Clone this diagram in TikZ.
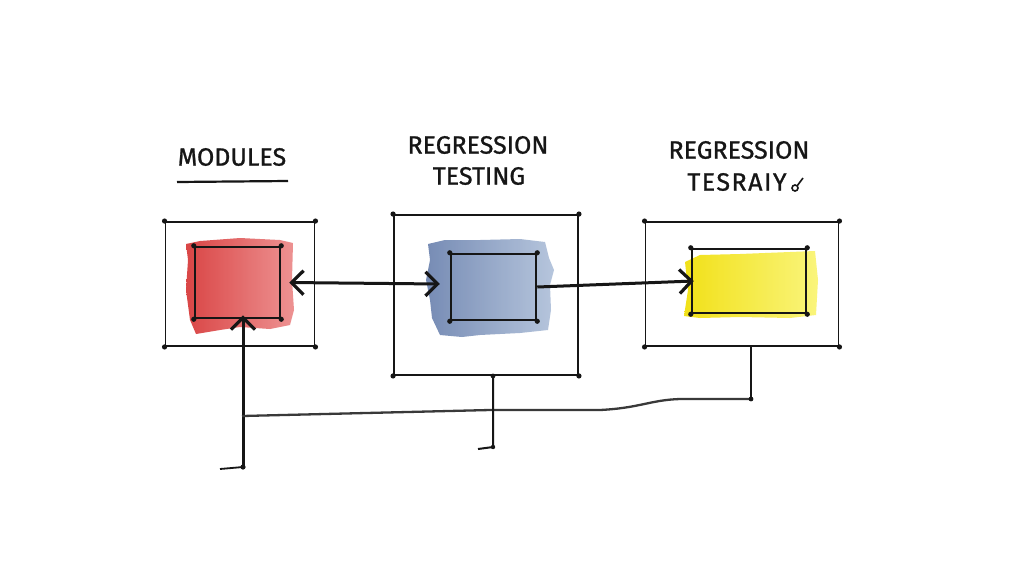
\documentclass[tikz,border=0pt]{standalone}
\usepackage{fontspec}
\setmainfont{Fira Sans}
\newfontfamily\hand{Fira Sans}[FakeBold=1]
\usetikzlibrary{arrows.meta,calc}
\definecolor{ink}{RGB}{22,22,22}
\definecolor{redL}{RGB}{214,50,50}
\definecolor{redR}{RGB}{236,135,135}
\definecolor{blueL}{RGB}{95,120,168}
\definecolor{blueR}{RGB}{170,188,215}
\definecolor{yelL}{RGB}{240,222,0}
\definecolor{yelR}{RGB}{250,244,110}
\tikzset{
  outerbox/.style={draw=ink,line width=1.9pt,minimum width=#1,inner sep=0pt},
  innerbox/.style={draw=ink,line width=2.5pt,inner sep=0pt},
  tip/.tip={Straight Barb[length=12pt,width=24pt,line width=3.2pt]},
  conn/.style={draw=ink,line width=3pt,-tip},
  dconn/.style={draw=ink,line width=3pt,tip-tip},
  bus/.style={draw=ink!85,line width=2.3pt},
  label/.style={font=\hand\fontsize{25}{28}\selectfont,text=ink,inner sep=0pt,align=center},
  dot/.style={fill=ink}
}
\begin{document}
\begin{tikzpicture}[x=1pt,y=-1pt]
\fill[white] (0,0) rectangle (1024,576);
\useasboundingbox (0,0) rectangle (1024,576);

% watercolor washes
\shade[left color=redL,right color=redR,opacity=0.9]
 (186,244) -- (200,241) -- (240,238) -- (280,240) -- (293,243) -- (292,280) -- (294,310) -- (290,325) -- (270,329) -- (240,327) -- (220,330) -- (196,334) -- (190,320) -- (186,290) -- (188,260) -- cycle;
\shade[left color=blueL,right color=blueR,opacity=0.85]
 (428,244) -- (445,240) -- (480,240) -- (520,239) -- (545,242) -- (549,258) -- (554,270) -- (550,285) -- (551,310) -- (548,330) -- (520,333) -- (480,335) -- (462,337) -- (440,335) -- (432,318) -- (430,300) -- (426,280) -- (430,260) -- cycle;
\shade[left color=yelL,right color=yelR,opacity=0.9]
 (685,262) -- (700,255) -- (740,254) -- (790,252) -- (815,251) -- (818,280) -- (816,315) -- (790,318) -- (740,317) -- (700,318) -- (684,316) -- (688,290) -- cycle;

% outer boxes
\node[outerbox=149pt,minimum height=124pt] (out1) at (240,284) {};
\node[outerbox=184pt,minimum height=160pt] (out2) at (486,295) {};
\node[outerbox=193pt,minimum height=124pt] (out3) at (742,284) {};
% inner boxes
\node[innerbox,minimum width=85pt,minimum height=71pt] (in1) at (237.5,282.5) {};
\node[innerbox,minimum width=85pt,minimum height=66pt] (in2) at (493.5,287) {};
\node[innerbox,minimum width=114pt,minimum height=64pt] (in3) at (749,281) {};

\foreach \n in {out1,out2,out3,in1,in2,in3}{
  \foreach \c in {north west,north east,south west,south east}{
    \fill[dot] (\n.\c) circle (2.6);
  }
}

% titles
\node[label] (t1) at (232,157) {MODULES};
\draw[ink,line width=2.2pt] (177,182) coordinate (u1) -- (288,181) coordinate (u2);
\node[label] (t2a) at (478,145) {REGRESSION};
\node[label] (t2b) at (479,176) {TESTING};
\node[label] (t3a) at (739,150) {REGRESSION};
\node[label,font=\hand\fontsize{25}{28}\selectfont\addfontfeature{LetterSpace=6}] (t3b) at (737,182) {TESRAIY};
\draw[ink,line width=1.6pt] (795,188) circle (3);
\draw[ink,line width=1.6pt] (797,186) -- (803,178);

% connectors
\draw[dconn] ([xshift=8pt]in1.east) -- ([xshift=-10pt,yshift=3pt]in2.west);
\draw[conn] (in2.east) -- ([xshift=3pt]in3.west);

% bus at bottom
\coordinate (b0) at (220,469);
\coordinate (b1) at (243,467);
\coordinate (j1) at (242,416);
\coordinate (j3) at (751,399);
\coordinate (m1) at (493,447);
\coordinate (m0) at (478,449);
\draw[ink,line width=1.8pt] (b0) -- (b1);
\fill[dot] (b1) circle (2.6);
\draw[conn,shorten >=-4pt] (b1) -- (b1 |- in1.south);
\draw[bus] (j1) -- (490,410) -- (600,410) .. controls (640,408) and (650,400) .. (680,399) -- (j3);
\fill[dot] (j3) circle (2.4);
\draw[ink,line width=2pt] (j3) -- (j3 |- out3.south);
\draw[ink,line width=2pt] (m1 |- out2.south) -- (m1) -- (m0);
\fill[dot] (m1 |- out2.south) circle (2.4);
\fill[dot] (m1) circle (2.2);
\end{tikzpicture}
\end{document}
